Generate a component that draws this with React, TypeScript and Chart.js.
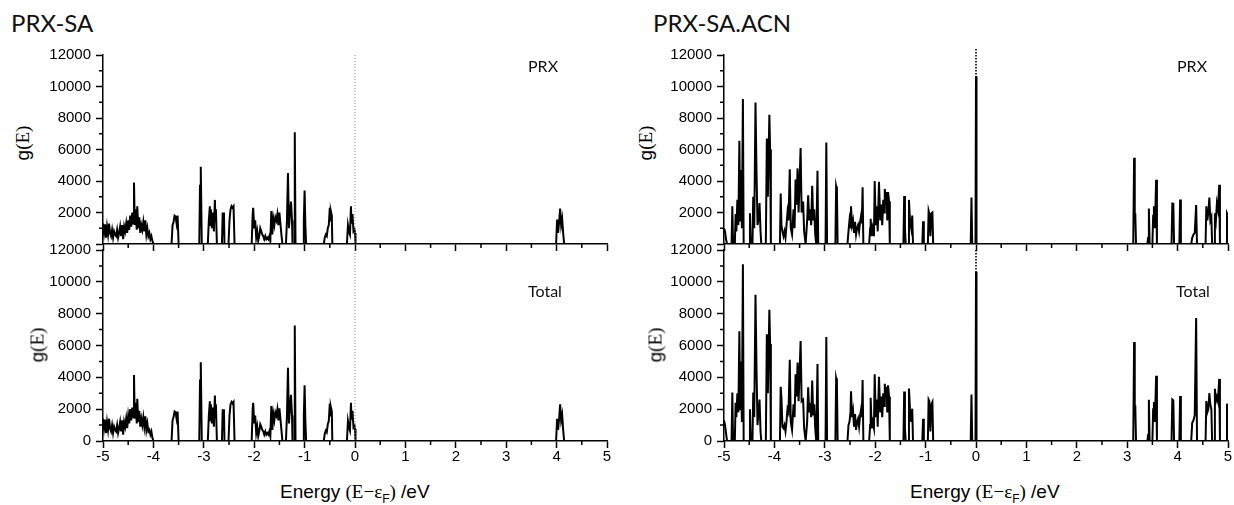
import React, { useEffect, useRef } from "react";
import { Chart, registerables } from "chart.js";

Chart.register(...registerables);

// ---------------- axis ticks ----------------
const xMajorTicks = [-5, -4, -3, -2, -1, 0, 1, 2, 3, 4, 5];
const xMinorTicks = [-4.5, -3.5, -2.5, -1.5, -0.5, 0.5, 1.5, 2.5, 3.5, 4.5];
const yMajorTicks = [0, 2000, 4000, 6000, 8000, 10000, 12000];
const yMinorTicks = [1000, 3000, 5000, 7000, 9000, 11000];
const fermiEnergy = 0;

const panelTitles = ["PRX-SA", "PRX-SA.ACN"];
const subplotLabels = ["PRX", "Total"];

// ---------------- PRX-SA (left panel) ----------------
const energySA = [
  -5.0, -4.98, -4.96, -4.94, -4.92, -4.9, -4.88, -4.86, -4.84, -4.82,
  -4.8, -4.78, -4.76, -4.74, -4.72, -4.7, -4.68, -4.66, -4.64, -4.62,
  -4.6, -4.58, -4.56, -4.54, -4.52, -4.5, -4.48, -4.46, -4.44, -4.42,
  -4.4, -4.385, -4.37, -4.35, -4.33, -4.32, -4.3, -4.28, -4.26, -4.24,
  -4.22, -4.2, -4.18, -4.16, -4.14, -4.12, -4.1, -4.08, -4.06, -4.04,
  -4.02, -4.0,
  -3.64, -3.62, -3.6, -3.58, -3.56, -3.54, -3.52, -3.5,
  -3.09, -3.075, -3.06, -3.04,
  -2.92, -2.9, -2.88, -2.87, -2.86, -2.84, -2.82, -2.8, -2.78, -2.77, -2.76, -2.74,
  -2.64, -2.625, -2.61, -2.6, -2.59,
  -2.51, -2.49, -2.47, -2.45, -2.43, -2.41, -2.39,
  -2.05, -2.03, -2.02, -2.0, -1.98, -1.96, -1.94, -1.92, -1.9, -1.88,
  -1.86, -1.84, -1.82, -1.8, -1.78, -1.76, -1.74, -1.72, -1.7, -1.68,
  -1.66, -1.64, -1.62, -1.6, -1.58, -1.56, -1.54, -1.52, -1.5, -1.48,
  -1.46, -1.44,
  -1.37, -1.35, -1.33, -1.31, -1.29, -1.27, -1.25, -1.24, -1.21, -1.195, -1.18,
  -1.03, -1.015, -1.0, -0.985, -0.97,
  -0.62, -0.6, -0.58, -0.56, -0.54, -0.52, -0.5, -0.49, -0.48, -0.46, -0.45,
  -0.16, -0.14, -0.12, -0.1, -0.08, -0.07, -0.05, -0.03, -0.01, 0.0, 0.01,
  3.99, 4.01, 4.03, 4.05, 4.07, 4.09, 4.11, 4.13, 4.15,
  5.0,
];
const prxSA = [
  1300, 700, 1250, 400, 1100, 600, 1300, 700, 500, 900,
  400, 800, 600, 500, 900, 400, 700, 1100, 500, 1200,
  300, 1100, 800, 1300, 700, 1500, 900, 1800, 1100, 2000,
  1300, 3900, 1200, 2200, 900, 2400, 1000, 1700, 700, 1200,
  900, 1400, 800, 1500, 600, 1000, 500, 700, 300, 500,
  200, 0,
  0, 1200, 1400, 1800, 1750, 1300, 1800, 0,
  0, 3700, 4900, 0,
  0, 1500, 2400, 1200, 2200, 1000, 2000, 800, 2800, 1500, 2200, 0,
  0, 2000, 600, 2000, 0,
  0, 1500, 2200, 2400, 2300, 2400, 0,
  0, 1900, 2300, 1000, 1500, 400, 800, 200, 500, 1000,
  800, 600, 500, 300, 500, 300, 400, 300, 500, 200,
  2100, 600, 1600, 1200, 1700, 1500, 1900, 1200, 2000, 1300,
  600, 0,
  0, 1500, 4500, 1000, 2000, 2700, 1500, 0, 0, 7100, 0,
  0, 1500, 3400, 1200, 0,
  0, 400, 600, 500, 1000, 1200, 2300, 1500, 2100, 1800, 0,
  0, 1200, 800, 600, 2400, 1300, 1900, 800, 900, 700, 0,
  0, 1550, 700, 1400, 2250, 1200, 1600, 700, 0,
  0,
];
const totalSA = [
  1400, 800, 1350, 500, 1200, 700, 1400, 800, 600, 1000,
  500, 900, 700, 600, 1000, 500, 800, 1200, 600, 1300,
  400, 1200, 900, 1400, 800, 1600, 1100, 2000, 1300, 2100,
  1500, 4150, 1400, 2400, 1100, 2650, 1200, 1900, 900, 1400,
  1000, 1500, 900, 1550, 700, 1100, 600, 700, 400, 600,
  200, 0,
  0, 1300, 1500, 1850, 1800, 1400, 1850, 0,
  0, 3800, 4950, 0,
  0, 1600, 2500, 1300, 2300, 1100, 2100, 900, 2850, 1600, 2300, 0,
  0, 2000, 700, 2000, 0,
  0, 1600, 2300, 2450, 2350, 2450, 0,
  0, 2000, 2400, 1100, 1600, 500, 900, 300, 600, 1050,
  900, 700, 600, 400, 600, 400, 500, 400, 600, 300,
  2200, 700, 1700, 1300, 1800, 1600, 2000, 1300, 2050, 1400,
  700, 0,
  0, 1600, 4600, 1100, 2100, 2900, 1600, 0, 0, 7250, 0,
  0, 1600, 3500, 1300, 0,
  0, 450, 650, 550, 1050, 1250, 2350, 1600, 2150, 1850, 0,
  0, 1250, 850, 650, 2400, 1350, 1900, 850, 950, 750, 0,
  0, 1400, 700, 1400, 2300, 1300, 1650, 700, 0,
  0,
];

// ---------------- PRX-SA.ACN (right panel) ----------------
const energyACN = [
  -5.0, -4.98, -4.96, -4.94, -4.85, -4.835, -4.82, -4.785, -4.77, -4.755,
  -4.735, -4.715, -4.695, -4.68, -4.665, -4.645, -4.625, -4.61, -4.5, -4.485,
  -4.47, -4.435, -4.42, -4.4, -4.375, -4.355, -4.335, -4.31, -4.295, -4.275,
  -4.26, -4.17, -4.15, -4.13, -4.1, -4.085, -4.07, -3.89, -3.875, -3.86,
  -3.84, -3.82, -3.8, -3.78, -3.76, -3.74, -3.72, -3.695, -3.675, -3.65,
  -3.62, -3.6, -3.58, -3.56, -3.54, -3.52, -3.48, -3.46, -3.43, -3.41,
  -3.38, -3.35, -3.33, -3.31, -3.29, -3.27, -3.25, -3.23, -3.21, -3.19,
  -3.17, -3.16, -3.145, -3.13, -2.985, -2.97, -2.955, -2.79, -2.775, -2.76,
  -2.745, -2.55, -2.53, -2.51, -2.49, -2.48, -2.46, -2.44, -2.42, -2.4,
  -2.38, -2.36, -2.34, -2.32, -2.3, -2.28, -2.265, -2.25, -2.235, -2.12,
  -2.1, -2.09, -2.07, -2.05, -2.025, -2.01, -1.99, -1.97, -1.95, -1.925,
  -1.9, -1.88, -1.86, -1.84, -1.82, -1.81, -1.79, -1.775, -1.76, -1.745,
  -1.725, -1.71, -1.44, -1.425, -1.41, -1.395, -1.345, -1.33, -1.31, -1.285,
  -1.265, -1.25, -1.065, -1.05, -1.035, -0.955, -0.94, -0.925, -0.905, -0.885,
  -0.865, -0.85, -0.105, -0.09, -0.075, -0.01, 0.0, 0.01, 3.12, 3.137,
  3.15, 3.16, 3.175, 3.4, 3.415, 3.43, 3.445, 3.5, 3.515, 3.53,
  3.55, 3.574, 3.59, 3.88, 3.895, 3.915, 3.93, 4.035, 4.05, 4.065,
  4.27, 4.29, 4.315, 4.34, 4.368, 4.385, 4.555, 4.57, 4.59, 4.61,
  4.63, 4.65, 4.67, 4.685, 4.725, 4.74, 4.76, 4.78, 4.8, 4.826,
  4.84, 4.965, 4.98, 5.0,
];
const prxACN = [
  1000, 800, 300, 0, 0, 2400, 0, 0, 1900, 800,
  2800, 1200, 6550, 1500, 4700, 1000, 9200, 0, 0, 1950,
  0, 0, 3000, 1000, 8990, 4600, 1200, 1700, 2600, 800,
  0, 0, 6700, 3000, 8200, 6000, 0, 0, 3200, 1200,
  800, 500, 800, 400, 1200, 2000, 1500, 4750, 1000, 600,
  2200, 1000, 4100, 2500, 4800, 2000, 6100, 2000, 2700, 800,
  0, 1500, 3100, 1500, 2200, 1200, 3700, 1500, 2200, 600,
  0, 0, 4650, 0, 0, 6450, 0, 0, 3650, 3400,
  0, 0, 800, 1500, 1000, 2400, 1200, 1500, 700, 1400,
  600, 1000, 1200, 800, 1400, 1800, 1300, 3600, 0, 0,
  1000, 1600, 500, 1000, 500, 4000, 1200, 2400, 800, 3950,
  1500, 2500, 1200, 2800, 2000, 3500, 2500, 3300, 1500, 3300,
  2700, 0, 0, 3050, 1000, 0, 0, 2800, 1500, 1000,
  1800, 0, 0, 1450, 0, 0, 2100, 1900, 500, 1950,
  2000, 0, 0, 2950, 0, 0, 10650, 0, 0, 5470,
  1500, 1950, 0, 0, 400, 2260, 0, 0, 1800, 2400,
  1000, 4080, 0, 0, 2570, 2550, 0, 0, 2820, 0,
  0, 400, 600, 700, 2470, 0, 0, 2400, 1500, 2000,
  2950, 1500, 1700, 0, 0, 1950, 1500, 2570, 2200, 3760,
  0, 0, 1950, 1800,
];
const totalACN = [
  1300, 1000, 500, 0, 0, 3050, 0, 0, 2400, 1500,
  3000, 1800, 6900, 2000, 5000, 1200, 11100, 0, 0, 2000,
  0, 0, 3050, 1500, 9180, 4600, 1000, 2000, 2600, 600,
  0, 0, 6700, 3000, 8250, 6100, 0, 0, 3400, 2700,
  900, 800, 1000, 600, 1200, 2000, 1800, 5100, 1200, 700,
  2300, 1500, 4200, 2800, 4930, 2500, 6280, 2500, 2600, 800,
  0, 1200, 3380, 1800, 2400, 1500, 3800, 1600, 2300, 800,
  0, 0, 4830, 0, 0, 6530, 0, 0, 3940, 3700,
  0, 0, 1000, 1200, 1800, 3130, 1500, 1900, 900, 1700,
  700, 1200, 1400, 900, 1600, 2000, 1500, 3830, 0, 0,
  1000, 2720, 800, 1200, 800, 4200, 1500, 2600, 900, 4040,
  1800, 2800, 1500, 3000, 2200, 3590, 2700, 3400, 1800, 3500,
  2800, 0, 0, 3110, 800, 0, 0, 3300, 2000, 1200,
  2030, 0, 0, 1400, 0, 0, 2600, 2500, 600, 2300,
  2450, 0, 0, 2920, 0, 0, 10630, 0, 0, 6220,
  1600, 2240, 0, 0, 400, 2590, 0, 0, 2000, 2450,
  1200, 4100, 0, 0, 2610, 2550, 0, 0, 2820, 0,
  0, 1140, 1300, 1610, 7730, 0, 0, 2510, 1800, 2000,
  3010, 2290, 2000, 0, 0, 3280, 2500, 2760, 2500, 3900,
  0, 0, 2340, 2000,
];

// ---------------- styling ----------------
const SANS = '"Liberation Sans", Arial, Helvetica, sans-serif';
const SERIF = '"Liberation Serif", "Times New Roman", serif';
const LABEL_FONT = 'Lato, "Open Sans", sans-serif';
const TEXT = "#000";

type FermiStyle = { color: string; width: number; dash: number[]; extendTop: number };

type PlotProps = {
  energy: number[];
  values: number[];
  left: number;
  top: number;
  width: number;
  height: number;
  padTop: number;
  padRight: number;
  yAxisWidth: number;
  xAxisHeight: number;
  showXLabels: boolean;
  hideZero: boolean;
  fermi: FermiStyle;
};

function DosPlot(p: PlotProps) {
  const ref = useRef<HTMLCanvasElement | null>(null);
  useEffect(() => {
    const canvas = ref.current;
    if (!canvas) return;
    const points = p.energy.map((e, i) => ({ x: e, y: p.values[i] }));
    const decor = {
      id: "decor",
      afterDatasetsDraw(chart: any) {
        const { ctx, chartArea: a, scales } = chart;
        const xs = scales.x;
        const ys = scales.y;
        ctx.save();
        ctx.strokeStyle = "#000";
        ctx.lineWidth = 1.5;
        ctx.beginPath();
        for (const v of xMinorTicks) {
          const px = xs.getPixelForValue(v);
          ctx.moveTo(px, a.bottom);
          ctx.lineTo(px, a.bottom + 4);
        }
        for (const v of yMinorTicks) {
          const py = ys.getPixelForValue(v);
          ctx.moveTo(a.left, py);
          ctx.lineTo(a.left - 4, py);
        }
        ctx.stroke();
        const fx = xs.getPixelForValue(fermiEnergy);
        ctx.strokeStyle = p.fermi.color;
        ctx.lineWidth = p.fermi.width;
        ctx.setLineDash(p.fermi.dash);
        ctx.beginPath();
        ctx.moveTo(fx, a.top - p.fermi.extendTop);
        ctx.lineTo(fx, a.bottom);
        ctx.stroke();
        ctx.restore();
      },
    };
    const axisGrid = {
      drawOnChartArea: false,
      drawTicks: true,
      tickLength: 7,
      tickWidth: 1.5,
      tickColor: "#000",
      color: "#000",
    };
    const chart = new Chart(canvas, {
      type: "line",
      data: {
        datasets: [
          {
            data: points,
            borderColor: "#000",
            borderWidth: 2,
            pointRadius: 0,
            tension: 0,
            fill: false,
          },
        ],
      },
      options: {
        responsive: false,
        animation: false,
        devicePixelRatio: 1,
        events: [],
        layout: { padding: { top: p.padTop, right: p.padRight, left: 0, bottom: 0 } },
        plugins: { legend: { display: false }, tooltip: { enabled: false }, title: { display: false } },
        scales: {
          x: {
            type: "linear",
            min: -5,
            max: 5,
            afterBuildTicks: (s: any) => {
              s.ticks = xMajorTicks.map((v) => ({ value: v }));
            },
            afterFit: (s: any) => {
              s.height = p.xAxisHeight;
            },
            ticks: {
              display: p.showXLabels,
              autoSkip: false,
              maxRotation: 0,
              padding: 0,
              color: TEXT,
              font: { family: SANS, size: 15 },
              callback: (v: any) => String(v),
            },
            grid: axisGrid,
            border: { display: true, color: "#000", width: 1.5 },
          },
          y: {
            type: "linear",
            min: 0,
            max: 12000,
            afterBuildTicks: (s: any) => {
              s.ticks = yMajorTicks.map((v) => ({ value: v }));
            },
            afterFit: (s: any) => {
              s.width = p.yAxisWidth;
            },
            ticks: {
              padding: 5,
              color: TEXT,
              font: { family: SANS, size: 15 },
              callback: (v: any) => (p.hideZero && Number(v) === 0 ? "" : String(v)),
            },
            grid: axisGrid,
            border: { display: true, color: "#000", width: 1.5 },
          },
        },
      },
      plugins: [decor],
    } as any);
    return () => chart.destroy();
  }, []);
  return (
    <canvas
      ref={ref}
      width={p.width}
      height={p.height}
      style={{ position: "absolute", left: p.left, top: p.top, width: p.width, height: p.height }}
    />
  );
}

function YTitle({ cx, cy }: { cx: number; cy: number }) {
  return (
    <div
      style={{
        position: "absolute",
        left: cx,
        top: cy,
        transform: "translate(-50%, -50%) rotate(-90deg)",
        whiteSpace: "nowrap",
        fontSize: 19,
        lineHeight: 1,
        color: TEXT,
        fontFamily: SANS,
      }}
    >
      g<span style={{ fontFamily: SERIF }}>(E)</span>
    </div>
  );
}

function XTitle({ left }: { left: number }) {
  return (
    <div
      style={{
        position: "absolute",
        left,
        top: 482,
        whiteSpace: "nowrap",
        fontSize: 19,
        lineHeight: "20px",
        color: TEXT,
        fontFamily: SANS,
      }}
    >
      Energy{" "}
      <span style={{ fontFamily: SERIF }}>(E−ε</span>
      <span style={{ fontSize: 12, position: "relative", top: 5 }}>F</span>
      <span style={{ fontFamily: SERIF }}>)</span> /eV
    </div>
  );
}

function Label({ text, left, top, size }: { text: string; left: number; top: number; size: number }) {
  return (
    <div
      style={{
        position: "absolute",
        left,
        top,
        fontSize: size,
        lineHeight: 1,
        whiteSpace: "nowrap",
        color: "#111",
        fontFamily: LABEL_FONT,
      }}
    >
      {text}
    </div>
  );
}

const fermiLeft: FermiStyle = { color: "#8a8a8a", width: 1, dash: [1, 2], extendTop: 0 };
const fermiRightTop: FermiStyle = { color: "#000", width: 1.6, dash: [1.5, 1.5], extendTop: 6 };
const fermiRightBottom: FermiStyle = { color: "#000", width: 1.6, dash: [1.5, 1.5], extendTop: 0 };

export default function App() {
  return (
    <div
      style={{
        position: "fixed",
        left: 0,
        top: 0,
        width: 1234,
        height: 505,
        background: "#fff",
        overflow: "hidden",
      }}
    >
      {/* Left panel */}
      <DosPlot
        energy={energySA}
        values={prxSA}
        left={40}
        top={40}
        width={580}
        height={218}
        padTop={15}
        padRight={13}
        yAxisWidth={63}
        xAxisHeight={10}
        showXLabels={false}
        hideZero={true}
        fermi={fermiLeft}
      />
      <DosPlot
        energy={energySA}
        values={totalSA}
        left={40}
        top={236}
        width={580}
        height={232}
        padTop={12}
        padRight={13}
        yAxisWidth={63}
        xAxisHeight={27}
        showXLabels={true}
        hideZero={false}
        fermi={fermiLeft}
      />
      {/* Right panel */}
      <DosPlot
        energy={energyACN}
        values={prxACN}
        left={660}
        top={40}
        width={574}
        height={218}
        padTop={15}
        padRight={6}
        yAxisWidth={64}
        xAxisHeight={10}
        showXLabels={false}
        hideZero={true}
        fermi={fermiRightTop}
      />
      <DosPlot
        energy={energyACN}
        values={totalACN}
        left={660}
        top={236}
        width={574}
        height={232}
        padTop={12}
        padRight={6}
        yAxisWidth={64}
        xAxisHeight={27}
        showXLabels={true}
        hideZero={false}
        fermi={fermiRightBottom}
      />

      <Label text={panelTitles[0]} left={11} top={11} size={24} />
      <Label text={panelTitles[1]} left={653} top={11} size={24} />
      <Label text={subplotLabels[0]} left={528} top={58} size={16} />
      <Label text={subplotLabels[1]} left={528} top={283} size={16} />
      <Label text={subplotLabels[0]} left={1177} top={58} size={16} />
      <Label text={subplotLabels[1]} left={1176} top={283} size={16} />

      <YTitle cx={22} cy={143} />
      <YTitle cx={37} cy={345} />
      <YTitle cx={645} cy={143} />
      <YTitle cx={655} cy={345} />

      <XTitle left={280} />
      <XTitle left={910} />
    </div>
  );
}
